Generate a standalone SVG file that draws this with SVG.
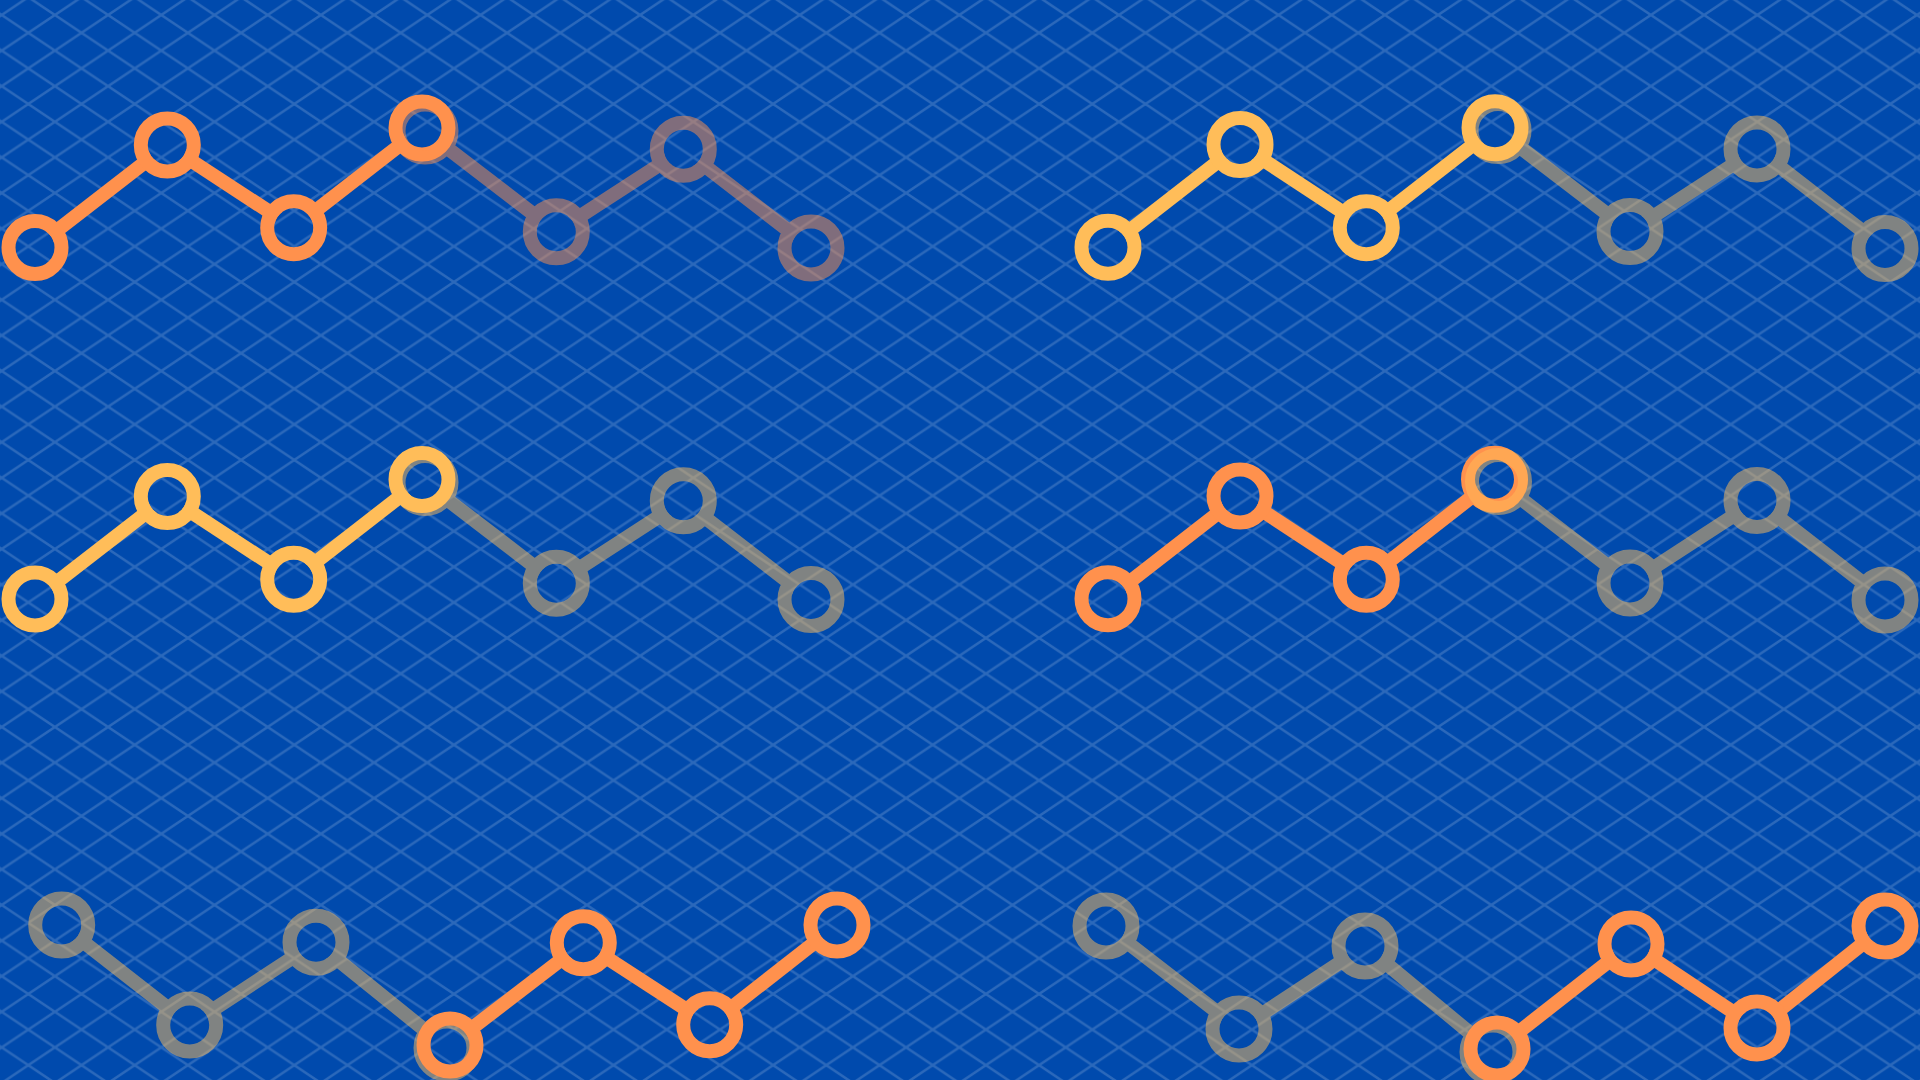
<svg xmlns="http://www.w3.org/2000/svg" width="1920" height="1080" viewBox="0 0 1920 1080">
<style>
.ring{fill:none;stroke-width:14}
.link{stroke-width:14;stroke-linecap:butt;fill:none}
.o{stroke:#FF914D}
.y{stroke:#FFBD59}
.faded{opacity:.5}
</style>
<defs>
<pattern id="grid" patternUnits="userSpaceOnUse" x="1.7" y="15" width="53.2" height="35.6">
<path d="M-53.2,-35.6 L106.4,71.2 M0,-35.6 L106.4,35.6 M-53.2,0 L53.2,71.2 M106.4,-35.6 L-53.2,71.2 M53.2,-35.6 L-53.2,35.6 M106.4,0 L0,71.2" stroke="#fff" stroke-opacity=".17" stroke-width="2.5"/>
</pattern>
<mask id="holes" maskUnits="userSpaceOnUse" x="0" y="0" width="1920" height="1080">
<rect width="1920" height="1080" fill="#fff"/>
<g fill="#000">
<circle cx="35" cy="247.5" r="19.5"/><circle cx="167.3" cy="145" r="19.5"/><circle cx="293.7" cy="227.7" r="19.5"/><circle cx="422" cy="128" r="19.5"/><circle cx="425" cy="131" r="19.5"/><circle cx="556.3" cy="231.7" r="19.5"/><circle cx="683.3" cy="149.3" r="19.5"/><circle cx="811" cy="248" r="19.5"/>
<circle cx="1108" cy="247.3" r="19.5"/><circle cx="1240" cy="144.5" r="19.5"/><circle cx="1366.3" cy="227.7" r="19.5"/><circle cx="1495" cy="127.7" r="19.5"/><circle cx="1498" cy="130.5" r="19.5"/><circle cx="1630" cy="231.5" r="19.5"/><circle cx="1757" cy="149" r="19.5"/><circle cx="1885" cy="248.5" r="19.5"/>
<circle cx="35" cy="599" r="19.5"/><circle cx="167.3" cy="496.5" r="19.5"/><circle cx="293.7" cy="579.2" r="19.5"/><circle cx="422" cy="479.5" r="19.5"/><circle cx="425" cy="482.5" r="19.5"/><circle cx="556.3" cy="583.2" r="19.5"/><circle cx="683.3" cy="500.8" r="19.5"/><circle cx="811" cy="599.5" r="19.5"/>
<circle cx="1108" cy="598.8" r="19.5"/><circle cx="1240" cy="496" r="19.5"/><circle cx="1366.3" cy="579.2" r="19.5"/><circle cx="1494.5" cy="479.2" r="19.5"/><circle cx="1498.5" cy="481.5" r="19.5"/><circle cx="1630" cy="583" r="19.5"/><circle cx="1757" cy="500.5" r="19.5"/><circle cx="1885" cy="600" r="19.5"/>
<circle cx="61.7" cy="925" r="19.5"/><circle cx="189.7" cy="1025" r="19.5"/><circle cx="316" cy="942.3" r="19.5"/><circle cx="447" cy="1048" r="19.5"/><circle cx="450" cy="1045" r="19.5"/><circle cx="583.3" cy="942.7" r="19.5"/><circle cx="709.7" cy="1024.7" r="19.5"/><circle cx="837" cy="925" r="19.5"/>
<circle cx="1106" cy="926" r="19.5"/><circle cx="1239" cy="1029" r="19.5"/><circle cx="1365" cy="946" r="19.5"/><circle cx="1493" cy="1052" r="19.5"/><circle cx="1497" cy="1049" r="19.5"/><circle cx="1631" cy="944" r="19.5"/><circle cx="1757" cy="1028" r="19.5"/><circle cx="1885" cy="926" r="19.5"/>
</g>
</mask>
</defs>

<g id="background">
<rect width="1920" height="1080" fill="#004AAD"/>
<rect width="1920" height="1080" fill="url(#grid)"/>
</g>

<!-- Top-left chart (orange) -->
<g id="chart-tl">
<g id="tl-active">
<g id="tl-links" class="connectors" mask="url(#holes)">
<line class="link o" x1="35" y1="247.5" x2="167.3" y2="145"/>
<line class="link o" x1="167.3" y1="145" x2="293.7" y2="227.7"/>
<line class="link o" x1="293.7" y1="227.7" x2="422" y2="128"/>
</g>
<g id="tl-n1"><circle class="ring o" cx="35" cy="247.5" r="26.5"/></g>
<g id="tl-n2"><circle class="ring o" cx="167.3" cy="145" r="26.5"/></g>
<g id="tl-n3"><circle class="ring o" cx="293.7" cy="227.7" r="26.5"/></g>
<g id="tl-n4"><circle class="ring o" cx="422" cy="128" r="26.5"/></g>
</g>
<g id="tl-faded" class="faded">
<g id="tl-links-faded" class="connectors" mask="url(#holes)">
<line class="link o" x1="425" y1="131" x2="556.3" y2="231.7"/>
<line class="link o" x1="556.3" y1="231.7" x2="683.3" y2="149.3"/>
<line class="link o" x1="683.3" y1="149.3" x2="811" y2="248"/>
</g>
<g id="tl-n4b"><circle class="ring o" cx="425" cy="131" r="26.5"/></g>
<g id="tl-n5"><circle class="ring o" cx="556.3" cy="231.7" r="26.5"/></g>
<g id="tl-n6"><circle class="ring o" cx="683.3" cy="149.3" r="26.5"/></g>
<g id="tl-n7"><circle class="ring o" cx="811" cy="248" r="26.5"/></g>
</g>
</g>

<!-- Top-right chart (yellow) -->
<g id="chart-tr">
<g id="tr-active">
<g id="tr-links" class="connectors" mask="url(#holes)">
<line class="link y" x1="1108" y1="247.3" x2="1240" y2="144.5"/>
<line class="link y" x1="1240" y1="144.5" x2="1366.3" y2="227.7"/>
<line class="link y" x1="1366.3" y1="227.7" x2="1495" y2="127.7"/>
</g>
<g id="tr-n1"><circle class="ring y" cx="1108" cy="247.3" r="26.5"/></g>
<g id="tr-n2"><circle class="ring y" cx="1240" cy="144.5" r="26.5"/></g>
<g id="tr-n3"><circle class="ring y" cx="1366.3" cy="227.7" r="26.5"/></g>
<g id="tr-n4"><circle class="ring y" cx="1495" cy="127.7" r="26.5"/></g>
</g>
<g id="tr-faded" class="faded">
<g id="tr-links-faded" class="connectors" mask="url(#holes)">
<line class="link y" x1="1498" y1="130.5" x2="1630" y2="231.5"/>
<line class="link y" x1="1630" y1="231.5" x2="1757" y2="149"/>
<line class="link y" x1="1757" y1="149" x2="1885" y2="248.5"/>
</g>
<g id="tr-n4b"><circle class="ring y" cx="1498" cy="130.5" r="26.5"/></g>
<g id="tr-n5"><circle class="ring y" cx="1630" cy="231.5" r="26.5"/></g>
<g id="tr-n6"><circle class="ring y" cx="1757" cy="149" r="26.5"/></g>
<g id="tr-n7"><circle class="ring y" cx="1885" cy="248.5" r="26.5"/></g>
</g>
</g>

<!-- Middle-left chart (yellow) -->
<g id="chart-ml">
<g id="ml-active">
<g id="ml-links" class="connectors" mask="url(#holes)">
<line class="link y" x1="35" y1="599" x2="167.3" y2="496.5"/>
<line class="link y" x1="167.3" y1="496.5" x2="293.7" y2="579.2"/>
<line class="link y" x1="293.7" y1="579.2" x2="422" y2="479.5"/>
</g>
<g id="ml-n1"><circle class="ring y" cx="35" cy="599" r="26.5"/></g>
<g id="ml-n2"><circle class="ring y" cx="167.3" cy="496.5" r="26.5"/></g>
<g id="ml-n3"><circle class="ring y" cx="293.7" cy="579.2" r="26.5"/></g>
<g id="ml-n4"><circle class="ring y" cx="422" cy="479.5" r="26.5"/></g>
</g>
<g id="ml-faded" class="faded">
<g id="ml-links-faded" class="connectors" mask="url(#holes)">
<line class="link y" x1="425" y1="482.5" x2="556.3" y2="583.2"/>
<line class="link y" x1="556.3" y1="583.2" x2="683.3" y2="500.8"/>
<line class="link y" x1="683.3" y1="500.8" x2="811" y2="599.5"/>
</g>
<g id="ml-n4b"><circle class="ring y" cx="425" cy="482.5" r="26.5"/></g>
<g id="ml-n5"><circle class="ring y" cx="556.3" cy="583.2" r="26.5"/></g>
<g id="ml-n6"><circle class="ring y" cx="683.3" cy="500.8" r="26.5"/></g>
<g id="ml-n7"><circle class="ring y" cx="811" cy="599.5" r="26.5"/></g>
</g>
</g>

<!-- Middle-right chart (orange) -->
<g id="chart-mr">
<g id="mr-active">
<g id="mr-links" class="connectors" mask="url(#holes)">
<line class="link o" x1="1108" y1="598.8" x2="1240" y2="496"/>
<line class="link o" x1="1240" y1="496" x2="1366.3" y2="579.2"/>
<line class="link o" x1="1366.3" y1="579.2" x2="1494.5" y2="479.2"/>
</g>
<g id="mr-n1"><circle class="ring o" cx="1108" cy="598.8" r="26.5"/></g>
<g id="mr-n2"><circle class="ring o" cx="1240" cy="496" r="26.5"/></g>
<g id="mr-n3"><circle class="ring o" cx="1366.3" cy="579.2" r="26.5"/></g>
<g id="mr-n4"><circle class="ring o" cx="1494.5" cy="479.2" r="26.5"/></g>
</g>
<g id="mr-faded" class="faded">
<g id="mr-links-faded" class="connectors" mask="url(#holes)">
<line class="link y" x1="1498.5" y1="481.5" x2="1630" y2="583"/>
<line class="link y" x1="1630" y1="583" x2="1757" y2="500.5"/>
<line class="link y" x1="1757" y1="500.5" x2="1885" y2="600"/>
</g>
<g id="mr-n4b"><circle class="ring y" cx="1498.5" cy="481.5" r="26.5"/></g>
<g id="mr-n5"><circle class="ring y" cx="1630" cy="583" r="26.5"/></g>
<g id="mr-n6"><circle class="ring y" cx="1757" cy="500.5" r="26.5"/></g>
<g id="mr-n7"><circle class="ring y" cx="1885" cy="600" r="26.5"/></g>
</g>
</g>

<!-- Bottom-left chart (gray then orange) -->
<g id="chart-bl">
<g id="bl-faded" class="faded">
<g id="bl-links-faded" class="connectors" mask="url(#holes)">
<line class="link y" x1="61.7" y1="925" x2="189.7" y2="1025"/>
<line class="link y" x1="189.7" y1="1025" x2="316" y2="942.3"/>
<line class="link y" x1="316" y1="942.3" x2="447" y2="1048"/>
</g>
<g id="bl-n1"><circle class="ring y" cx="61.7" cy="925" r="26.5"/></g>
<g id="bl-n2"><circle class="ring y" cx="189.7" cy="1025" r="26.5"/></g>
<g id="bl-n3"><circle class="ring y" cx="316" cy="942.3" r="26.5"/></g>
<g id="bl-n4b"><circle class="ring y" cx="447" cy="1048" r="26.5"/></g>
</g>
<g id="bl-active">
<g id="bl-links" class="connectors" mask="url(#holes)">
<line class="link o" x1="450" y1="1045" x2="583.3" y2="942.7"/>
<line class="link o" x1="583.3" y1="942.7" x2="709.7" y2="1024.7"/>
<line class="link o" x1="709.7" y1="1024.7" x2="837" y2="925"/>
</g>
<g id="bl-n4"><circle class="ring o" cx="450" cy="1045" r="26.5"/></g>
<g id="bl-n5"><circle class="ring o" cx="583.3" cy="942.7" r="26.5"/></g>
<g id="bl-n6"><circle class="ring o" cx="709.7" cy="1024.7" r="26.5"/></g>
<g id="bl-n7"><circle class="ring o" cx="837" cy="925" r="26.5"/></g>
</g>
</g>

<!-- Bottom-right chart (gray then orange) -->
<g id="chart-br">
<g id="br-faded" class="faded">
<g id="br-links-faded" class="connectors" mask="url(#holes)">
<line class="link y" x1="1106" y1="926" x2="1239" y2="1029"/>
<line class="link y" x1="1239" y1="1029" x2="1365" y2="946"/>
<line class="link y" x1="1365" y1="946" x2="1493" y2="1052"/>
</g>
<g id="br-n1"><circle class="ring y" cx="1106" cy="926" r="26.5"/></g>
<g id="br-n2"><circle class="ring y" cx="1239" cy="1029" r="26.5"/></g>
<g id="br-n3"><circle class="ring y" cx="1365" cy="946" r="26.5"/></g>
<g id="br-n4b"><circle class="ring y" cx="1493" cy="1052" r="26.5"/></g>
</g>
<g id="br-active">
<g id="br-links" class="connectors" mask="url(#holes)">
<line class="link o" x1="1497" y1="1049" x2="1631" y2="944"/>
<line class="link o" x1="1631" y1="944" x2="1757" y2="1028"/>
<line class="link o" x1="1757" y1="1028" x2="1885" y2="926"/>
</g>
<g id="br-n4"><circle class="ring o" cx="1497" cy="1049" r="26.5"/></g>
<g id="br-n5"><circle class="ring o" cx="1631" cy="944" r="26.5"/></g>
<g id="br-n6"><circle class="ring o" cx="1757" cy="1028" r="26.5"/></g>
<g id="br-n7"><circle class="ring o" cx="1885" cy="926" r="26.5"/></g>
</g>
</g>
</svg>
